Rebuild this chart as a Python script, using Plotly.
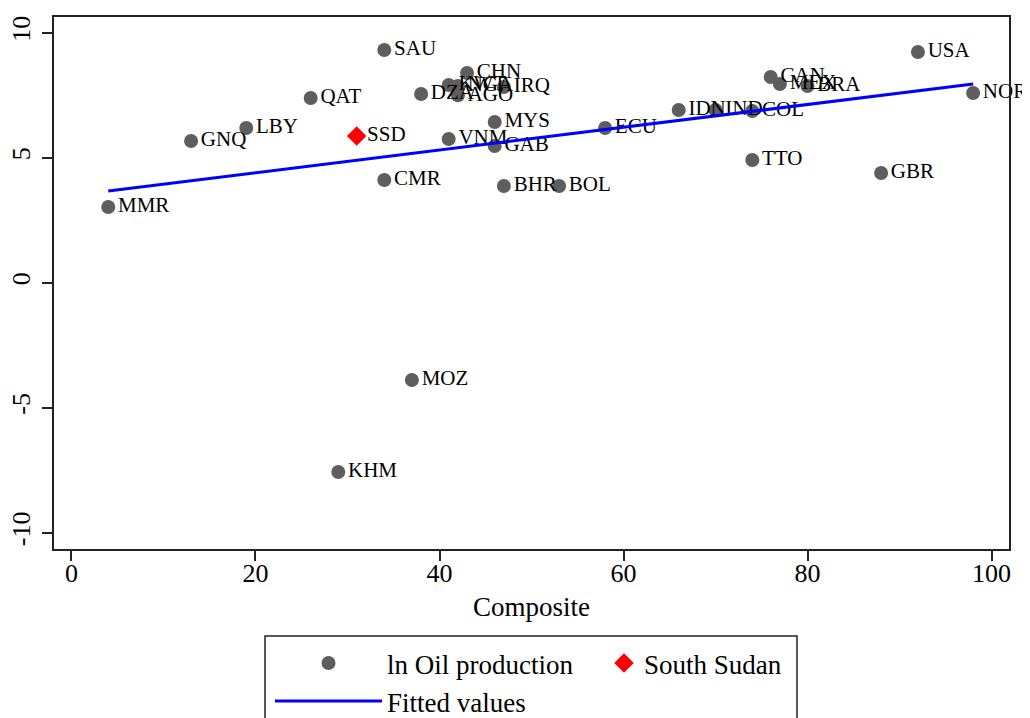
import plotly.graph_objects as go

# ---- data ----
countries = ["MMR", "GNQ", "LBY", "QAT", "SAU", "CMR", "KHM", "MOZ", "DZA", "CHN",
             "KWT", "NGA", "AGO", "IRQ", "VNM", "MYS", "GAB", "BHR", "BOL", "ECU",
             "IDN", "IND", "COL", "CAN", "MEX", "BRA", "USA", "NOR", "TTO", "GBR"]
composite = [4, 13, 19, 26, 34, 34, 29, 37, 38, 43,
             41, 42, 42, 47, 41, 46, 46, 47, 53, 58,
             66, 70, 74, 76, 77, 80, 92, 98, 74, 88]
ln_oil = [3.03, 5.67, 6.19, 7.39, 9.31, 4.11, -7.57, -3.89, 7.55, 8.39,
          7.91, 7.87, 7.50, 7.83, 5.75, 6.43, 5.47, 3.87, 3.87, 6.19,
          6.91, 6.91, 6.87, 8.23, 7.95, 7.87, 9.23, 7.59, 4.91, 4.39]

ssd_label = ["SSD"]
ssd_composite = [31]
ssd_ln_oil = [5.87]

fit_x = [4, 98]
fit_y = [3.67, 7.95]

x_ticks = [0, 20, 40, 60, 80, 100]
y_ticks = [-10, -5, 0, 5, 10]
y_ticktext = ["-10", "-5", "0", "5", "10"]

FONT = "Liberation Serif, Times New Roman, serif"

fig = go.Figure()

fig.add_trace(go.Scatter(
    x=composite, y=ln_oil, text=countries, mode="markers+text",
    textposition="middle right",
    textfont=dict(family=FONT, size=21, color="black"),
    marker=dict(color="#5e5e5e", size=14, symbol="circle"),
    name="ln Oil production", legend="legend", showlegend=True, cliponaxis=False,
))
fig.add_trace(go.Scatter(
    x=ssd_composite, y=ssd_ln_oil, text=ssd_label, mode="markers+text",
    textposition="middle right",
    textfont=dict(family=FONT, size=21, color="black"),
    marker=dict(color="#ff0000", size=15, symbol="diamond"),
    name="South Sudan", legend="legend2", showlegend=True, cliponaxis=False,
))
fig.add_trace(go.Scatter(
    x=fit_x, y=fit_y, mode="lines",
    line=dict(color="#0000ff", width=3),
    name="Fitted values", legend="legend3", showlegend=True,
))

W, H = 1030, 718
ml, mr, mt, mb = 46, 29, 9, 177
pw, ph = W - ml - mr, H - mt - mb


def cx(xp):
    return xp / W


def cy(yp):
    return (H - yp) / H


def px(xp):
    return (xp - ml) / pw


def py(yp):
    return (H - mb - yp) / ph


axis_common = dict(
    showline=True, linecolor="#222222", linewidth=1.5, mirror=True,
    ticks="outside", ticklen=10, tickwidth=1.5, tickcolor="#222222",
    showgrid=False, zeroline=False, automargin=False,
    tickfont=dict(family=FONT, size=26, color="black"),
)

leg_common = dict(xref="container", yref="container", xanchor="left", yanchor="top",
                  orientation="h", bgcolor="rgba(0,0,0,0)", borderwidth=0,
                  font=dict(family=FONT, size=27, color="black"))

fig.update_layout(
    width=W, height=H,
    margin=dict(l=ml, r=mr, t=mt, b=mb, autoexpand=False),
    plot_bgcolor="white", paper_bgcolor="white",
    font=dict(family=FONT, color="black"),
    showlegend=True,
    xaxis=dict(range=[-1.9, 101.9], tickvals=x_ticks,
               ticklabelstandoff=-10,
               title=dict(text="Composite", font=dict(family=FONT, size=27), standoff=10),
               **axis_common),
    yaxis=dict(range=[-10.65, 10.63], tickvals=y_ticks, ticktext=y_ticktext,
               tickangle=-90, ticklabelstandoff=2, **axis_common),
    legend=dict(x=cx(262), y=cy(631), itemwidth=107, **leg_common),
    legend2=dict(x=cx(596), y=cy(631), itemwidth=30, **leg_common),
    legend3=dict(x=cx(262), y=cy(669), itemwidth=107, **leg_common),
    shapes=[dict(type="rect", xref="paper", yref="paper",
                 x0=px(257), x1=px(789), y0=py(628), y1=py(730),
                 line=dict(color="#222222", width=1.5))],
)

fig.write_html("out.html")
